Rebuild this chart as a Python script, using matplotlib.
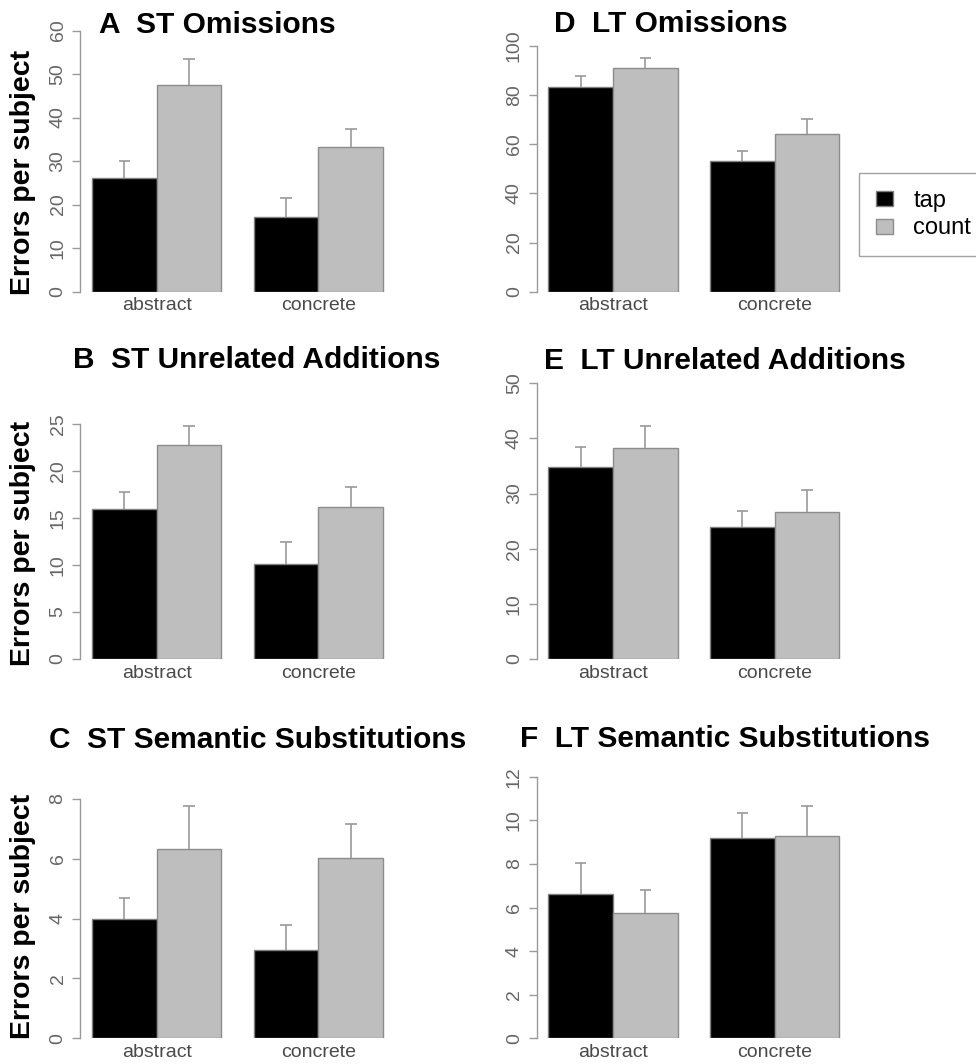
import numpy as np
import matplotlib
matplotlib.use('Agg')
import matplotlib.pyplot as plt
from matplotlib.patches import Patch

plt.rcParams['font.family'] = ['Liberation Sans', 'DejaVu Sans']

W, H = 976., 1064.

groups = ['abstract', 'concrete']
conditions = ['tap', 'count']
bar_colors = ['black', '#bebebe']

# means per panel: rows = tap, count ; cols = abstract, concrete
titles = ['A  ST Omissions', 'B  ST Unrelated Additions', 'C  ST Semantic Substitutions',
          'D  LT Omissions', 'E  LT Unrelated Additions', 'F  LT Semantic Substitutions']
tap_means = [[26.2, 17.2], [16.0, 10.1], [4.0, 2.95],
             [83.1, 53.3], [34.9, 24.0], [6.62, 9.17]]
count_means = [[47.5, 33.2], [22.8, 16.2], [6.33, 6.03],
               [91.1, 64.1], [38.3, 26.7], [5.73, 9.28]]
tap_se = [[3.8, 4.2], [1.8, 2.3], [0.68, 0.83],
          [4.6, 3.9], [3.6, 2.9], [1.41, 1.18]]
count_se = [[6.0, 4.1], [2.0, 2.1], [1.44, 1.12],
            [3.8, 6.2], [4.0, 3.9], [1.07, 1.39]]
y_ticks = [np.arange(0, 61, 10), np.arange(0, 26, 5), np.arange(0, 9, 2),
           np.arange(0, 101, 20), np.arange(0, 51, 10), np.arange(0, 13, 2)]

# pixel layout: (axis x, y of zero tick, y of top tick), title centre (x, y)
axis_x = [80.4, 80.4, 80.4, 536.7, 536.7, 536.7]
y_zero = [291.5, 659, 1038.3, 291.7, 659, 1038.3]
y_top = [30.5, 424, 798.7, 45.7, 383.3, 776.7]
title_pos = [(217, 25), (257, 360), (258, 740), (671, 24), (725, 361), (725, 739)]
ylab_pos = [(23, 172), (23, 543), (23, 916)]

px_per_unit = 64.67
xmin, xmax = 0.32, 5.18
grey = '#9a9a9a'

fig = plt.figure(figsize=(W / 100., H / 100.), dpi=100)

for i in range(6):
    left = axis_x[i] / W
    width = (xmax - xmin) * px_per_unit / W
    bottom = 1 - y_zero[i] / H
    height = (y_zero[i] - y_top[i]) / H
    ax = fig.add_axes([left, bottom, width, height])

    x_tap = np.array([1.0, 3.5])
    x_count = x_tap + 1.0
    ax.bar(x_tap, tap_means[i], width=1.0, color=bar_colors[0],
           edgecolor='#808080', linewidth=1.0, zorder=2)
    ax.bar(x_count, count_means[i], width=1.0, color=bar_colors[1],
           edgecolor='#8c8c8c', linewidth=1.0, zorder=2)

    for xs, m, s in [(x_tap, tap_means[i], tap_se[i]), (x_count, count_means[i], count_se[i])]:
        top = np.array(m) + np.array(s)
        ax.vlines(xs, m, top, color=grey, linewidth=1.2, zorder=3, clip_on=False)
        ax.hlines(top, xs - 0.09, xs + 0.09, color=grey, linewidth=1.2, zorder=3, clip_on=False)

    ax.set_xlim(xmin, xmax)
    ax.set_ylim(y_ticks[i][0], y_ticks[i][-1])
    for sp in ['top', 'right', 'bottom']:
        ax.spines[sp].set_visible(False)
    ax.spines['left'].set_color(grey)
    ax.spines['left'].set_linewidth(1.0)
    ax.set_yticks(y_ticks[i])
    ax.set_yticklabels([str(t) for t in y_ticks[i]], rotation=90, va='center',
                       fontsize=14, color='#666666')
    ax.tick_params(axis='y', length=6, width=1.0, color=grey, pad=4)
    ax.set_xticks((x_tap + x_count) / 2)
    ax.set_xticklabels(groups, fontsize=14, color='#4a4a4a')
    ax.tick_params(axis='x', length=0, pad=4)

    tx, ty = title_pos[i]
    fig.text(tx / W, 1 - ty / H, titles[i], ha='center', va='center',
             fontsize=21.5, fontweight='bold')

for (lx, ly) in ylab_pos:
    fig.text(lx / W, 1 - ly / H, 'Errors per subject', rotation=90, ha='center',
             va='center', fontsize=20.5, fontweight='bold')

handles = [Patch(facecolor=bar_colors[0], edgecolor='#808080'),
           Patch(facecolor=bar_colors[1], edgecolor='#8c8c8c')]
leg = fig.legend(handles, conditions, loc='upper left',
                 bbox_to_anchor=(859 / W, 1 - 173 / H), fontsize=17,
                 frameon=True, fancybox=False, edgecolor='#8c8c8c',
                 handlelength=0.75, handleheight=0.6, handletextpad=0.85,
                 labelspacing=0.25, borderpad=0.7, borderaxespad=0.0)
leg.get_frame().set_linewidth(1.0)

fig.savefig('out.png', dpi=100)
